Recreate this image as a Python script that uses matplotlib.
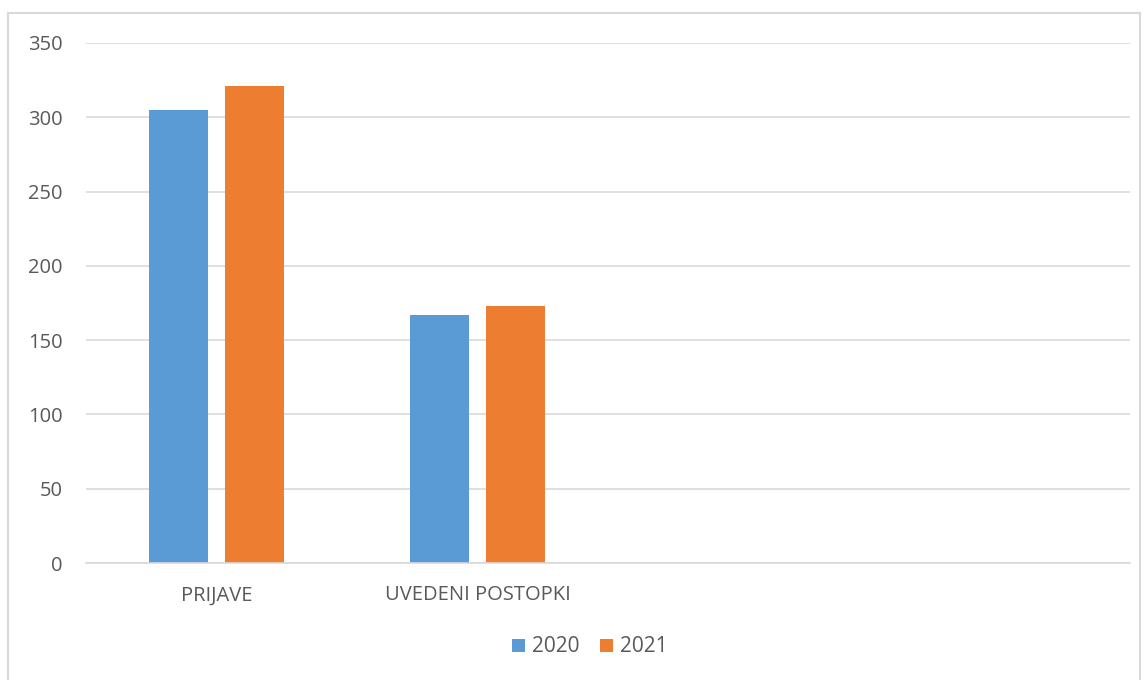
import matplotlib.pyplot as plt
import numpy as np
from matplotlib.patches import Rectangle

plt.rcParams['font.family'] = ['Open Sans', 'DejaVu Sans']

categories = ['PRIJAVE', 'UVEDENI POSTOPKI', '', '']
v2020 = [305, 167, np.nan, np.nan]
v2021 = [321, 173, np.nan, np.nan]

blue = '#5B9BD5'
orange = '#ED7D31'
txt = '#595959'

fig = plt.figure(figsize=(11.48, 6.8), dpi=100)
ax = fig.add_axes([0.0749, 0.172, 0.9094, 0.7648])

# outer chart frame
fig.patches.append(Rectangle((8 / 1148, -0.01), 1132 / 1148, 1 - 13 / 680 + 0.01,
                             transform=fig.transFigure, fill=False,
                             edgecolor='#D9D9D9', linewidth=1.5))

x = np.arange(len(categories))
w = 0.226
b1 = ax.bar(x - 0.1456, v2020, w, color=blue, label='2020')
b2 = ax.bar(x + 0.1456, v2021, w, color=orange, label='2021')

ax.set_xlim(-0.5, len(categories) - 0.5)
ax.set_ylim(0, 350)
ax.set_yticks(range(0, 351, 50))
ax.set_xticks(x)
ax.set_xticklabels(categories)
ax.yaxis.grid(True, color='#D9D9D9', linewidth=1.2)
ax.set_axisbelow(True)
for s in ['top', 'right', 'left']:
    ax.spines[s].set_visible(False)
ax.spines['bottom'].set_color('#D9D9D9')
ax.spines['bottom'].set_linewidth(1.2)
ax.tick_params(axis='both', length=0, labelcolor=txt, labelsize=14.5)
ax.tick_params(axis='x', pad=16)
ax.tick_params(axis='y', pad=17)

fig.legend(handles=[b1, b2], loc='center', bbox_to_anchor=(0.514, 1 - 647 / 680),
           ncol=2, frameon=False, fontsize=15, labelcolor=txt,
           handlelength=0.6, handleheight=0.6, handletextpad=0.35, columnspacing=1.0)

fig.savefig('out.png', dpi=100)
